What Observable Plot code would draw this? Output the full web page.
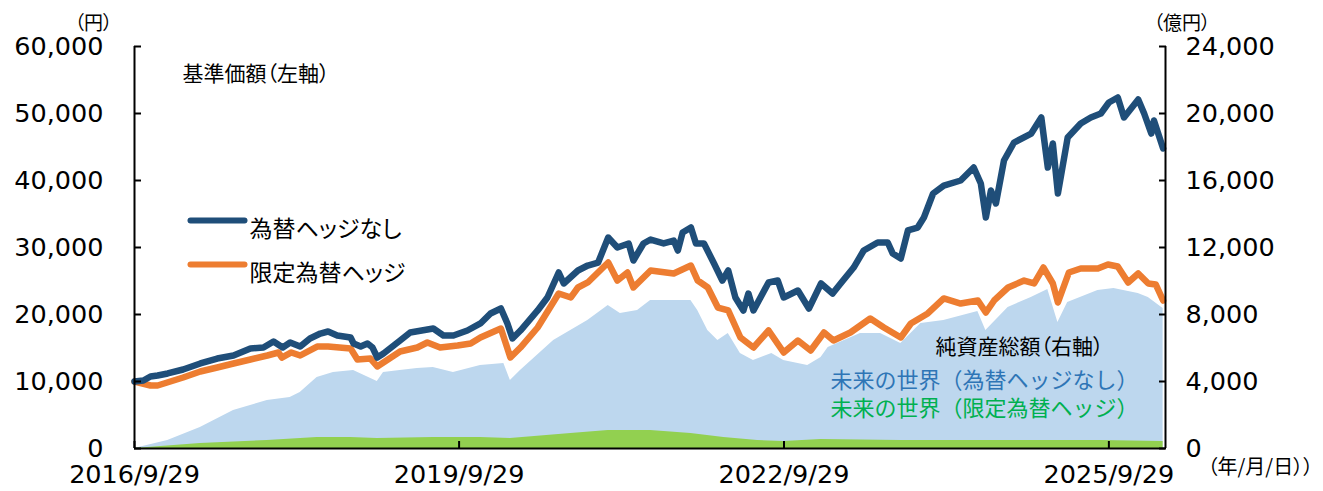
<!DOCTYPE html>
<html><head><meta charset="utf-8">
<script src="https://cdn.jsdelivr.net/npm/d3@7"></script>
<script src="https://cdn.jsdelivr.net/npm/@observablehq/plot@0.6"></script>
<style>
html,body{margin:0;padding:0;background:#fff;}
#chart svg text{font-feature-settings:"palt";}
#chart svg text.nopalt{font-feature-settings:normal;}
</style></head><body><div id="chart"></div>
<script>
// ---- data ----
const xDomain = ["2016-09-29", "2026-04-08"];
const xTickDates = ["2016-09-29", "2019-09-29", "2022-09-29", "2025-09-29"];
const leftTicks = [0, 10000, 20000, 30000, 40000, 50000, 60000];      // 基準価額 (円)
const rightTicks = [0, 4000, 8000, 12000, 16000, 20000, 24000];       // 純資産総額 (億円)

// 基準価額: 為替ヘッジなし
const unhedgedDates = ["2016-09-29","2016-10-29","2016-11-22","2016-12-16","2017-01-19","2017-03-12","2017-05-09","2017-07-05","2017-08-29","2017-10-25","2017-12-08","2018-01-11","2018-02-11","2018-03-08","2018-04-11","2018-05-14","2018-06-18","2018-07-14","2018-08-14","2018-09-28","2018-10-08","2018-11-01","2018-11-24","2018-12-11","2018-12-27","2019-01-17","2019-03-14","2019-04-17","2019-07-04","2019-08-07","2019-09-10","2019-10-27","2019-12-10","2020-01-13","2020-02-17","2020-03-10","2020-03-27","2020-04-23","2020-06-20","2020-07-23","2020-08-30","2020-09-16","2020-11-03","2020-12-06","2021-01-10","2021-02-13","2021-03-16","2021-04-23","2021-05-09","2021-06-12","2021-07-06","2021-08-19","2021-09-22","2021-10-06","2021-10-22","2021-11-19","2021-12-06","2022-01-02","2022-02-05","2022-03-05","2022-03-25","2022-04-18","2022-05-15","2022-06-01","2022-06-18","2022-08-08","2022-09-08","2022-09-28","2022-11-15","2022-12-22","2023-02-01","2023-03-12","2023-04-08","2023-05-22","2023-06-25","2023-08-11","2023-09-14","2023-10-01","2023-10-28","2023-11-21","2023-12-24","2024-01-14","2024-02-14","2024-03-21","2024-05-17","2024-06-30","2024-07-24","2024-08-10","2024-08-27","2024-09-13","2024-10-10","2024-11-13","2025-01-10","2025-02-13","2025-03-07","2025-03-24","2025-04-10","2025-05-13","2025-06-26","2025-07-30","2025-09-02","2025-09-29","2025-10-29","2025-11-19","2026-01-06","2026-01-26","2026-02-19","2026-02-28","2026-03-31"];
const unhedgedNav = [10000,10150,10750,10900,11200,11790,12690,13430,13880,14930,15070,15970,15070,15820,15220,16420,17160,17460,16870,16570,15670,15220,15670,15070,13580,14180,16120,17310,17910,16870,16870,17610,18660,20150,20900,18660,16420,17610,20600,22540,26270,24630,26570,27310,27760,31490,30000,30600,28060,30600,31190,30600,31040,29550,32240,32980,30600,30600,27610,25070,26570,22540,20600,23130,20600,24780,25070,22540,23580,20900,24630,23130,24630,27010,29550,30750,30750,29100,28360,32540,32980,34480,38060,39250,40000,41940,39550,34480,38510,36570,42980,45670,47010,49400,41940,45520,38060,46420,48510,49400,50000,51640,52390,49400,52090,50000,47010,48950,44780];

// 基準価額: 限定為替ヘッジ
const hedgedDates = ["2016-09-29","2016-11-22","2016-12-16","2017-03-12","2017-05-09","2017-07-05","2017-08-29","2017-10-25","2017-12-21","2018-01-28","2018-02-08","2018-03-12","2018-04-11","2018-06-07","2018-07-14","2018-09-28","2018-10-21","2018-12-04","2018-12-27","2019-03-14","2019-05-11","2019-06-14","2019-07-27","2019-09-24","2019-11-07","2019-12-10","2020-02-17","2020-03-20","2020-04-23","2020-06-20","2020-08-30","2020-10-10","2020-11-03","2020-12-06","2021-02-13","2021-03-16","2021-04-19","2021-05-09","2021-07-06","2021-09-22","2021-11-19","2021-12-12","2022-01-15","2022-02-18","2022-03-25","2022-05-05","2022-06-18","2022-08-08","2022-09-28","2022-11-15","2022-12-28","2023-02-11","2023-03-15","2023-05-11","2023-07-17","2023-09-01","2023-10-28","2023-12-01","2024-01-27","2024-03-21","2024-05-17","2024-07-14","2024-08-10","2024-09-07","2024-10-24","2024-12-17","2025-01-20","2025-02-20","2025-03-24","2025-04-10","2025-05-17","2025-06-26","2025-08-23","2025-09-26","2025-10-29","2025-12-03","2026-01-06","2026-02-09","2026-03-06","2026-03-31"];
const hedgedNav = [10000,9400,9400,10600,11490,12090,12690,13280,13880,14330,13580,14330,13880,15220,15220,14930,13280,13430,12240,14480,15070,15820,15070,15370,15670,16570,17910,13580,15070,18060,23130,22540,24030,24780,27760,25070,26270,24030,26570,26120,27310,25070,24030,21040,20600,16570,15070,17610,14330,16120,14630,17310,16120,17310,19400,18060,16570,18660,20150,22390,21640,22090,20300,22090,24030,25070,24630,27010,24630,21790,26270,26870,26870,27460,27160,24780,26120,24630,24480,22090];

// 純資産総額 (億円): 未来の世界（為替ヘッジなし）
const aumUnhedgedDates = ["2016-09-29","2017-01-19","2017-05-09","2017-08-29","2017-12-21","2018-03-08","2018-04-11","2018-06-07","2018-08-01","2018-10-08","2018-12-27","2019-01-17","2019-03-14","2019-05-11","2019-07-04","2019-09-10","2019-12-10","2020-02-27","2020-03-20","2020-04-23","2020-08-13","2020-12-06","2021-02-13","2021-03-26","2021-05-23","2021-07-06","2021-11-19","2021-12-12","2022-01-15","2022-02-18","2022-03-25","2022-05-05","2022-06-18","2022-08-19","2022-09-28","2022-12-18","2023-02-01","2023-02-25","2023-06-14","2023-08-21","2023-10-28","2024-01-04","2024-03-21","2024-07-14","2024-08-10","2024-10-24","2025-01-10","2025-03-07","2025-04-10","2025-05-13","2025-08-23","2025-10-16","2026-01-06","2026-02-09","2026-03-31"];
const aumUnhedged = [0,480,1250,2270,2870,3040,3340,4240,4540,4660,4000,4540,4660,4780,4840,4540,4960,5070,4060,4660,6450,7640,8540,8060,8240,8840,8840,8240,7040,6450,6870,5670,5250,5670,5250,4960,5430,6030,6870,6870,6270,7460,7640,8180,7040,8420,9010,9490,7520,8720,9430,9550,9250,9010,8360];

// 純資産総額 (億円): 未来の世界（限定為替ヘッジ）
const aumHedgedDates = ["2016-09-29","2017-05-09","2017-12-21","2018-06-07","2018-09-28","2018-12-27","2019-07-04","2019-12-10","2020-03-20","2020-10-10","2021-02-13","2021-07-06","2021-11-19","2022-03-10","2022-07-02","2022-09-28","2023-02-01","2023-10-28","2024-10-09","2025-09-02","2026-03-31"];
const aumHedged = [0,300,480,660,660,600,660,660,600,900,1075,1075,900,660,480,420,540,480,480,480,420];

const legendLabels = ["為替ヘッジなし", "限定為替ヘッジ"];
const legendColors = ["#1F4E79", "#ED7D31"];
const fundLabels = ["未来の世界（為替ヘッジなし）", "未来の世界（限定為替ヘッジ）"];
const fundColors = ["#2E75B6", "#00B050"];

// ---- build ----
const parse = d3.utcParse("%Y-%m-%d");
const RATIO = leftTicks[leftTicks.length - 1] / rightTicks[rightTicks.length - 1];
const zip = (ds, vs, scale = 1) => ds.map((d, i) => ({date: parse(d), value: vs[i] * scale}));

const unhedged = zip(unhedgedDates, unhedgedNav);
const hedged = zip(hedgedDates, hedgedNav);
const aumU = zip(aumUnhedgedDates, aumUnhedged, RATIO);
const aumH = zip(aumHedgedDates, aumHedged, RATIO);

const JP = "'Noto Sans CJK JP', 'Noto Sans', sans-serif";
const NUM = "'DejaVu Sans', sans-serif";
const fmt = d3.format(",");
const hLine = {draw(context, l) { context.moveTo(0, 0); context.lineTo(l, 0); }};

const legendMarks = legendLabels.flatMap((label, i) => [
  Plot.vector([label], {frameAnchor: "top-left", dx: 56, dy: 174 + 44 * i, length: 54, anchor: "start",
    shape: hLine, stroke: legendColors[i], strokeWidth: 6, strokeLinecap: "round"}),
  Plot.text([label], {frameAnchor: "top-left", dx: 115, dy: 174 + 44 * i, text: d => d, textAnchor: "start",
    fontSize: 23, fontFamily: JP, fill: "#000"})
]);
const fundMarks = fundLabels.map((label, i) =>
  Plot.text([label], {frameAnchor: "bottom-right", dx: -335, dy: -61 + 28 * i, text: d => d, textAnchor: "start",
    fontSize: 22, fontFamily: JP, fill: fundColors[i]})
);

const chart = Plot.plot({
  width: 1323, height: 491,
  marginLeft: 134, marginRight: 158, marginTop: 46, marginBottom: 43,
  style: {background: "#fff", color: "#000", fontFamily: JP},
  x: {type: "utc", domain: xDomain.map(parse)},
  y: {domain: [leftTicks[0], leftTicks[leftTicks.length - 1]]},
  marks: [
    Plot.areaY(aumU, {x: "date", y: "value", fill: "#BDD7EE"}),
    Plot.areaY(aumH, {x: "date", y: "value", fill: "#92D050"}),
    Plot.line(hedged, {x: "date", y: "value", stroke: "#ED7D31", strokeWidth: 6.5, strokeLinejoin: "round", strokeLinecap: "round"}),
    Plot.line(unhedged, {x: "date", y: "value", stroke: "#1F4E79", strokeWidth: 6.5, strokeLinejoin: "round", strokeLinecap: "round"}),
    Plot.ruleY([leftTicks[0]], {stroke: "#000", strokeWidth: 2}),
    Plot.ruleX(xDomain.map(parse), {stroke: "#000", strokeWidth: 2}),
    Plot.axisY(leftTicks, {anchor: "left", tickSize: -7, tickPadding: 38, tickFormat: fmt, label: null,
      fontSize: 25.5, fontFamily: NUM, strokeWidth: 2}),
    Plot.axisY(rightTicks.map(v => v * RATIO), {anchor: "right", tickSize: -7, tickPadding: 27, label: null,
      tickFormat: d => fmt(Math.round(d / RATIO)), fontSize: 25.5, fontFamily: NUM, strokeWidth: 2}),
    Plot.axisX(xTickDates.map(parse), {anchor: "bottom", tickSize: -7, tickPadding: 23, label: null,
      tickFormat: d3.utcFormat("%Y/%-m/%-d"), fontSize: 25.5, fontFamily: NUM, strokeWidth: 2}),
    Plot.text(["（円）"], {frameAnchor: "top-left", dx: -22, dy: -30, text: d => d, textAnchor: "end", fontSize: 19, fontFamily: JP}),
    Plot.text(["（億円）"], {frameAnchor: "top-right", dx: -12, dy: -30, text: d => d, textAnchor: "start", fontSize: 19, fontFamily: JP}),
    Plot.text(["（年/月/日））"], {frameAnchor: "bottom-right", dx: 42, dy: 25, text: d => d, textAnchor: "start", fontSize: 20, fontFamily: JP}),
    Plot.text(["基準価額（左軸）"], {frameAnchor: "top-left", dx: 48, dy: 20, text: d => d, textAnchor: "start", fontSize: 21, fontFamily: JP}),
    Plot.text(["純資産総額（右軸）"], {frameAnchor: "bottom-right", dx: -230, dy: -95, text: d => d, textAnchor: "start", fontSize: 21, fontFamily: JP}),
    ...fundMarks,
    ...legendMarks
  ]
});
// the two fund names use full-width brackets (no proportional alternates)
d3.select(chart).selectAll("text").filter(function() { return fundLabels.includes(this.textContent); }).classed("nopalt", true);
document.getElementById("chart").appendChild(chart);
</script></body></html>
